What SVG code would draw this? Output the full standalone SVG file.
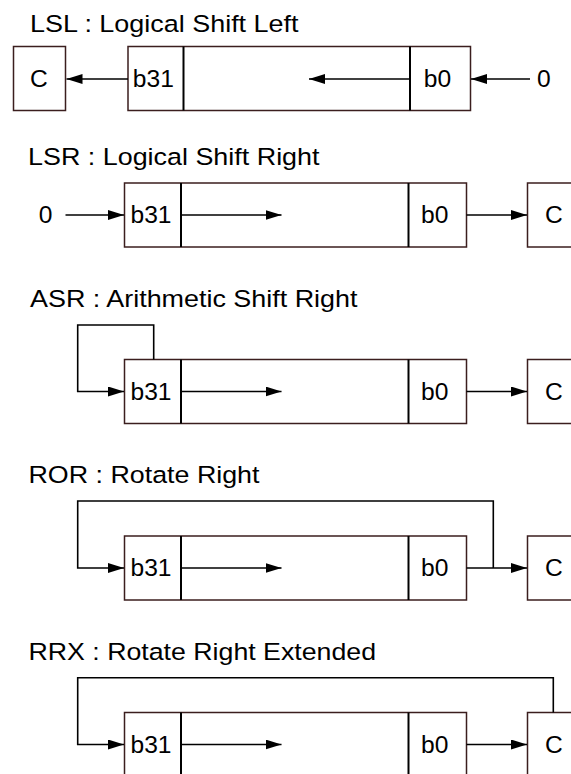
<svg xmlns="http://www.w3.org/2000/svg" width="571" height="774" viewBox="0 0 571 774">
<style>
  .title { font-family: "Liberation Sans", Arial, sans-serif; font-size: 24.5px; fill: #000; }
  .lbl { font-family: "Liberation Sans", Arial, sans-serif; font-size: 23px; fill: #000; text-anchor: middle; }
  .box { fill: #fff; stroke: #3b1e1e; stroke-width: 1.5; }
  .div { stroke: #000; stroke-width: 2; }
  .wire { fill: none; stroke: #000; stroke-width: 1.5; }
  .arr { fill: none; stroke: #000; stroke-width: 1.6; marker-end: url(#ah); }
</style>
<defs>
  <marker id="ah" markerUnits="userSpaceOnUse" markerWidth="18" markerHeight="11" refX="16" refY="5" orient="auto">
    <path d="M0,0 L16,5 L0,10 Z" fill="#000"/>
  </marker>
</defs>
<rect width="571" height="774" fill="#fff"/>

<!-- Titles -->
<g id="title-lsl"><text class="title" x="30" y="32" textLength="268.5" lengthAdjust="spacingAndGlyphs">LSL : Logical Shift Left</text></g>
<g id="title-lsr"><text class="title" x="28" y="165" textLength="291.5" lengthAdjust="spacingAndGlyphs">LSR : Logical Shift Right</text></g>
<g id="title-asr"><text class="title" x="30" y="306.7" textLength="327.5" lengthAdjust="spacingAndGlyphs">ASR : Arithmetic Shift Right</text></g>
<g id="title-ror"><text class="title" x="28.5" y="483" textLength="231" lengthAdjust="spacingAndGlyphs">ROR : Rotate Right</text></g>
<g id="title-rrx"><text class="title" x="28.5" y="660" textLength="347.5" lengthAdjust="spacingAndGlyphs">RRX : Rotate Right Extended</text></g>

<!-- Row 1: LSL -->
<g id="lsl-c">
  <rect class="box" x="13.5" y="46.5" width="52" height="64"/>
  <text class="lbl" x="39" y="87" textLength="17.8" lengthAdjust="spacingAndGlyphs">C</text>
</g>
<g id="lsl-reg">
  <rect class="box" x="128" y="46.5" width="342.5" height="64"/>
  <line class="div" x1="183.5" y1="46.5" x2="183.5" y2="110.5"/>
  <line class="div" x1="410" y1="46.5" x2="410" y2="110.5"/>
  <text class="lbl" x="153.3" y="87" textLength="41" lengthAdjust="spacingAndGlyphs">b31</text>
  <text class="lbl" x="437.5" y="87" textLength="27.4" lengthAdjust="spacingAndGlyphs">b0</text>
</g>
<g id="lsl-zero"><text class="lbl" x="543.8" y="87" textLength="13.7" lengthAdjust="spacingAndGlyphs">0</text></g>

<!-- Row 2: LSR -->
<g id="lsr-zero"><text class="lbl" x="45.5" y="223" textLength="13.7" lengthAdjust="spacingAndGlyphs">0</text></g>
<g id="lsr-reg">
  <rect class="box" x="124.5" y="183" width="342" height="64"/>
  <line class="div" x1="181" y1="183" x2="181" y2="247"/>
  <line class="div" x1="408.5" y1="183" x2="408.5" y2="247"/>
  <text class="lbl" x="151" y="223" textLength="41" lengthAdjust="spacingAndGlyphs">b31</text>
  <text class="lbl" x="434.7" y="223" textLength="27.4" lengthAdjust="spacingAndGlyphs">b0</text>
</g>
<g id="lsr-c">
  <rect class="box" x="527.5" y="183" width="52" height="64"/>
  <text class="lbl" x="554" y="223" textLength="17.8" lengthAdjust="spacingAndGlyphs">C</text>
</g>

<!-- Row 3: ASR -->
<g id="asr-reg">
  <rect class="box" x="124.5" y="359.5" width="342" height="64"/>
  <line class="div" x1="181" y1="359.5" x2="181" y2="423.5"/>
  <line class="div" x1="408.5" y1="359.5" x2="408.5" y2="423.5"/>
  <text class="lbl" x="151" y="399.5" textLength="41" lengthAdjust="spacingAndGlyphs">b31</text>
  <text class="lbl" x="434.7" y="399.5" textLength="27.4" lengthAdjust="spacingAndGlyphs">b0</text>
</g>
<g id="asr-c">
  <rect class="box" x="527.5" y="359.5" width="52" height="64"/>
  <text class="lbl" x="554" y="399.5" textLength="17.8" lengthAdjust="spacingAndGlyphs">C</text>
</g>

<!-- Row 4: ROR -->
<g id="ror-reg">
  <rect class="box" x="124.5" y="536" width="342" height="64"/>
  <line class="div" x1="181" y1="536" x2="181" y2="600"/>
  <line class="div" x1="408.5" y1="536" x2="408.5" y2="600"/>
  <text class="lbl" x="151" y="576" textLength="41" lengthAdjust="spacingAndGlyphs">b31</text>
  <text class="lbl" x="434.7" y="576" textLength="27.4" lengthAdjust="spacingAndGlyphs">b0</text>
</g>
<g id="ror-c">
  <rect class="box" x="527.5" y="536" width="52" height="64"/>
  <text class="lbl" x="554" y="576" textLength="17.8" lengthAdjust="spacingAndGlyphs">C</text>
</g>

<!-- Row 5: RRX -->
<g id="rrx-reg">
  <rect class="box" x="124.5" y="712.5" width="342" height="64"/>
  <line class="div" x1="181" y1="712.5" x2="181" y2="776.5"/>
  <line class="div" x1="408.5" y1="712.5" x2="408.5" y2="776.5"/>
  <text class="lbl" x="151" y="752.5" textLength="41" lengthAdjust="spacingAndGlyphs">b31</text>
  <text class="lbl" x="434.7" y="752.5" textLength="27.4" lengthAdjust="spacingAndGlyphs">b0</text>
</g>
<g id="rrx-c">
  <rect class="box" x="527.5" y="712.5" width="52" height="64"/>
  <text class="lbl" x="554" y="752.5" textLength="17.8" lengthAdjust="spacingAndGlyphs">C</text>
</g>

<!-- Connectors -->
<g id="connectors">
  <!-- LSL -->
  <line class="arr" x1="128" y1="79" x2="66.5" y2="79"/>
  <line class="arr" x1="410" y1="79" x2="309" y2="79"/>
  <line class="arr" x1="530" y1="79" x2="471" y2="79"/>
  <!-- LSR -->
  <line class="arr" x1="65.5" y1="215" x2="124" y2="215"/>
  <line class="arr" x1="181" y1="215" x2="281.5" y2="215"/>
  <line class="arr" x1="466.5" y1="215" x2="527" y2="215"/>
  <!-- ASR -->
  <path class="arr" d="M153.7,359.5 V325 H77.7 V391.5 H124"/>
  <line class="arr" x1="181" y1="391.5" x2="281.5" y2="391.5"/>
  <line class="arr" x1="466.5" y1="391.5" x2="527" y2="391.5"/>
  <!-- ROR -->
  <path class="arr" d="M493.3,568 V501 H77.7 V568 H124"/>
  <line class="arr" x1="181" y1="568" x2="281.5" y2="568"/>
  <line class="arr" x1="466.5" y1="568" x2="527" y2="568"/>
  <!-- RRX -->
  <path class="arr" d="M553.3,712.5 V677.7 H77.7 V744.5 H124"/>
  <line class="arr" x1="181" y1="744.5" x2="281.5" y2="744.5"/>
  <line class="arr" x1="466.5" y1="744.5" x2="527" y2="744.5"/>
</g>
</svg>
